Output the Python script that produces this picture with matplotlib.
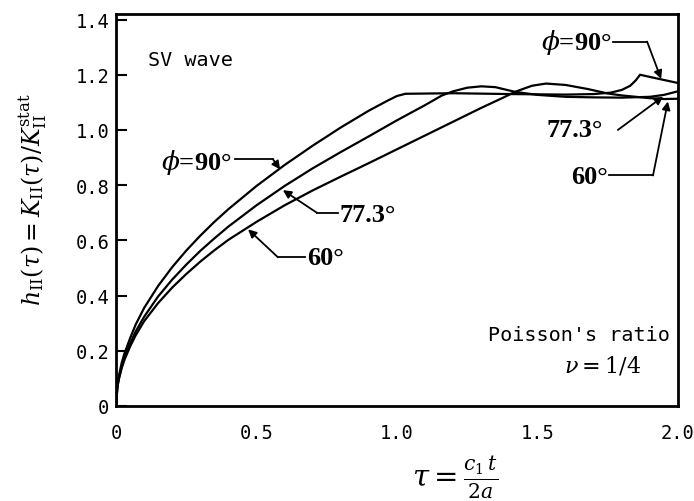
import numpy as np
import matplotlib
matplotlib.use('Agg')
from matplotlib import pyplot as plt

plt.rcParams['mathtext.fontset'] = 'dejavuserif'

# 無次元時間 tau と h_II の読み取り値
tau_90 = [0, 0.005, 0.01, 0.02, 0.03, 0.05, 0.07, 0.1, 0.15, 0.2, 0.25, 0.3,
          0.35, 0.4, 0.5, 0.6, 0.7, 0.8, 0.9, 0.97, 1.0, 1.03, 1.2, 1.4, 1.6,
          1.7, 1.76, 1.8, 1.83, 1.85, 1.865, 1.9, 2.0]
h_90 = [0, 0.075, 0.108, 0.155, 0.19, 0.245, 0.295, 0.355, 0.435, 0.503, 0.563,
        0.617, 0.667, 0.713, 0.797, 0.873, 0.943, 1.009, 1.07, 1.108, 1.123,
        1.131, 1.133, 1.13, 1.128, 1.13, 1.135, 1.145, 1.16, 1.18, 1.20, 1.192,
        1.17]

tau_77 = [0, 0.005, 0.01, 0.02, 0.03, 0.05, 0.07, 0.1, 0.15, 0.2, 0.25, 0.3,
          0.35, 0.4, 0.5, 0.6, 0.7, 0.8, 0.9, 1.0, 1.1, 1.16, 1.2, 1.25, 1.3,
          1.35, 1.42, 1.5, 1.6, 1.7, 1.8, 1.9, 1.95, 2.0]
h_77 = [0, 0.07, 0.1, 0.142, 0.175, 0.226, 0.27, 0.323, 0.397, 0.458, 0.512,
        0.562, 0.607, 0.65, 0.727, 0.797, 0.861, 0.92, 0.977, 1.035, 1.09,
        1.125, 1.14, 1.153, 1.158, 1.155, 1.138, 1.127, 1.12, 1.118, 1.117,
        1.12, 1.127, 1.14]

tau_60 = [0, 0.005, 0.01, 0.02, 0.03, 0.05, 0.07, 0.1, 0.15, 0.2, 0.25, 0.3,
          0.35, 0.4, 0.5, 0.6, 0.7, 0.8, 0.9, 1.0, 1.1, 1.2, 1.3, 1.38, 1.42,
          1.48, 1.53, 1.6, 1.68, 1.75, 1.8, 1.9, 1.95, 2.0]
h_60 = [0, 0.068, 0.096, 0.136, 0.167, 0.215, 0.256, 0.307, 0.373, 0.429,
        0.478, 0.523, 0.564, 0.602, 0.667, 0.727, 0.781, 0.831, 0.88, 0.93,
        0.98, 1.03, 1.08, 1.118, 1.138, 1.16, 1.168, 1.163, 1.148, 1.132, 1.125,
        1.115, 1.112, 1.113]

xticks = [0, 0.5, 1.0, 1.5, 2.0]
xticklabels = ['0', '0.5', '1.0', '1.5', '2.0']
yticks = [0, 0.2, 0.4, 0.6, 0.8, 1.0, 1.2, 1.4]
yticklabels = ['0', '0.2', '0.4', '0.6', '0.8', '1.0', '1.2', '1.4']

mono = 'DejaVu Sans Mono'
lab = dict(family='Liberation Serif', weight='bold', fontsize=19)

fig = plt.figure(figsize=(6.94, 5.02), dpi=100, facecolor='w')
ax = fig.add_axes([116 / 694, 1 - 407 / 502, 562 / 694, 392 / 502])

for t, h in [(tau_90, h_90), (tau_77, h_77), (tau_60, h_60)]:
    ax.plot(t, h, color='k', lw=1.6, solid_joinstyle='round')

ax.set_xlim(0, 2.0)
ax.set_ylim(0, 1.42)
ax.set_xticks(xticks)
ax.set_xticklabels(xticklabels, family=mono, fontsize=13.5)
ax.set_yticks(yticks)
ax.set_yticklabels(yticklabels, family=mono, fontsize=13.5)
ax.tick_params(axis='y', direction='in', length=8, width=1.5, pad=5)
ax.tick_params(axis='x', length=0, pad=12)
for s in ax.spines.values():
    s.set_linewidth(2)


def arrow(start, tip):
    ax.annotate('', xy=tip, xytext=start,
                arrowprops=dict(arrowstyle='-|>', color='k', lw=1.3,
                                mutation_scale=12, shrinkA=0, shrinkB=0))


def label(text, xy_text, corner, tip, ha):
    ax.text(xy_text[0], xy_text[1], text, ha=ha, va='center', **lab)
    ax.plot([corner[0][0], corner[1][0]], [corner[0][1], corner[1][1]],
            color='k', lw=1.3)
    arrow(corner[1], tip)


# 左側のラベル
label(r'$\phi$' + '=90°', (0.413, 0.886), ((0.425, 0.893), (0.559, 0.893)),
      (0.584, 0.857), 'right')
label('77.3°', (0.797, 0.694), ((0.79, 0.70), (0.715, 0.70)),
      (0.594, 0.782), 'left')
label('60°', (0.68, 0.539), ((0.673, 0.539), (0.576, 0.539)),
      (0.47, 0.64), 'left')

# 右側のラベル
label(r'$\phi$' + '=90°', (1.765, 1.32), ((1.77, 1.32), (1.89, 1.32)),
      (1.94, 1.185), 'right')
ax.text(1.733, 1.0, '77.3°', ha='right', va='center', **lab)
arrow((1.786, 1.0), (1.947, 1.121))
label('60°', (1.75, 0.832), ((1.754, 0.835), (1.911, 0.835)),
      (1.964, 1.103), 'right')

ax.text(0.114, 1.255, 'SV wave', family=mono, fontsize=14.5, va='center')
ax.text(1.648, 0.26, "Poisson's ratio", family=mono, fontsize=14.5,
        ha='center', va='center')
ax.text(1.733, 0.152, r'$\nu = 1/4$', fontsize=16, ha='center', va='center')

fig.text(455 / 694, 1 - 478 / 502, r'$\tau=\frac{c_1\,t}{2a}$', fontsize=21,
         ha='center', va='center')
fig.text(33 / 694, 1 - 200 / 502,
         r'$h_{\rm II}(\tau)=K_{\rm II}(\tau)/K_{\rm II}^{\rm stat}$',
         fontsize=17, rotation=90, ha='center', va='center')

fig.savefig('out.png', dpi=100, facecolor='w')
